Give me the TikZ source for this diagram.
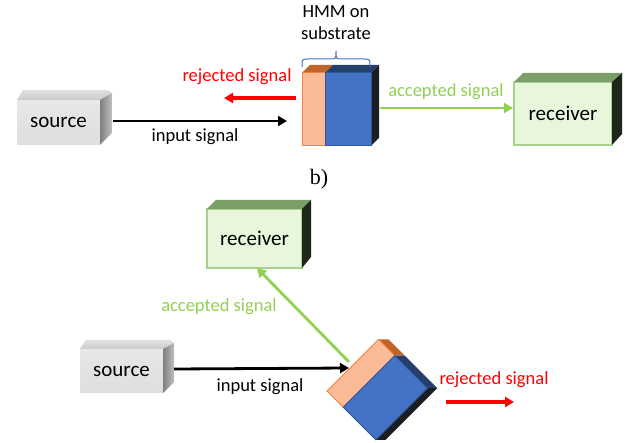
\documentclass[tikz,border=0pt]{standalone}
\usepackage{fontspec}
\setmainfont{Carlito}
\newfontfamily\serifb{Liberation Serif}
\usetikzlibrary{arrows.meta,calc}
\definecolor{orfront}{RGB}{252,187,152}
\definecolor{orline}{RGB}{240,128,60}
\definecolor{ortop}{RGB}{192,100,40}
\definecolor{blfront}{RGB}{68,114,196}
\definecolor{blline}{RGB}{47,85,151}
\definecolor{bltop}{RGB}{38,62,107}
\definecolor{blkside}{RGB}{26,30,34}
\definecolor{rcfront}{RGB}{232,246,220}
\definecolor{rcline}{RGB}{169,209,142}
\definecolor{rctop}{RGB}{124,158,104}
\definecolor{rcside}{RGB}{30,38,26}
\definecolor{sgreen}{RGB}{146,208,80}
\definecolor{sred}{RGB}{255,0,0}
\begin{document}
\begin{tikzpicture}[x=1pt,y=-1pt,
  boxlbl/.style={font=\fontsize{21}{25}\selectfont},
  sig/.style={font=\fontsize{18.5}{22}\selectfont, anchor=base, inner sep=0pt},
  srcfront/.style={boxlbl, inner sep=0pt, outer sep=0pt, shade, top color=black!9, bottom color=black!13},
  rcvfront/.style={boxlbl, inner sep=0pt, outer sep=0pt, fill=rcfront, draw=rcline, line width=1.3pt},
  arr/.style={-{Triangle[length=9pt,width=10pt]}},
  inarrow/.style={arr, line width=2.8pt, black},
  rejarrow/.style={arr, line width=3.2pt, sred},
  accarrow/.style={arr, line width=2.8pt, sgreen},
  ortopface/.style={fill=ortop},
  bltopface/.style={fill=bltop},
  sideface/.style={fill=blkside},
  orface/.style={fill=orfront, draw=orline, line width=1pt},
  blface/.style={fill=blfront, draw=blline, line width=1pt},
]
\useasboundingbox (0,0) rectangle (635,443);

% ---------- top: source ----------
\node[srcfront, minimum width=83pt, minimum height=45pt] (src1) at (58.5,122.5) {source};
\shade[top color=black!12, bottom color=black!20] (src1.north west) -- ++(6,-10) -- ($(src1.north east)+(6,-10)$) [rounded corners=4pt] -- ($(src1.north east)+(12,-9)$) [sharp corners] -- ++(0,2) -- (src1.north east) -- cycle;
\shade[left color=black!50, right color=black!25] (src1.north east) -- ($(src1.north east)+(12,-7)$) -- ($(src1.south east)+(12,-12)$) -- (src1.south east) -- cycle;

% ---------- top: HMM block ----------
\fill[ortopface] (302,73) -- (310,65) -- (333,65) -- (325,73) -- cycle;
\fill[bltopface] (325,73) -- (333,65) -- (379,65) -- (371,73) -- cycle;
\fill[sideface] (371,73) -- (379,65) -- (379,138) -- (371,146) -- cycle;
\node[orface, minimum width=23pt, minimum height=73pt, inner sep=0pt, outer sep=0pt] (hmm1o) at (313.5,109.5) {};
\node[blface, minimum width=46pt, minimum height=73pt, inner sep=0pt, outer sep=0pt] (hmm1b) at (348,109.5) {};
\draw[blfront, line width=1pt] (302,67) .. controls (302,59) .. (308,59) -- (331,59) .. controls (336,59) .. (336,51) .. controls (336,59) .. (341,59) -- (364,59) .. controls (370,59) .. (370,67);
\node[sig] (hmmlblA) at (336,18) {HMM on};
\node[sig] (hmmlblB) at (336,40) {substrate};

% ---------- top: receiver ----------
\node[rcvfront, minimum width=98pt, minimum height=63pt] (rcv1) at (563,113.5) {receiver};
\fill[rctop] (rcv1.north west) -- ++(9,-9) -- ($(rcv1.north east)+(10,-9)$) -- (rcv1.north east) -- cycle;
\fill[rcside] (rcv1.north east) -- ++(10,-9) -- ($(rcv1.south east)+(10,-11)$) -- (rcv1.south east) -- cycle;

% ---------- top: connectors ----------
\coordinate (in1s) at (113,121);
\coordinate (in1e) at (287,121);
\coordinate (rej1s) at (296,98);
\coordinate (rej1e) at (224,98);
\coordinate (acc1s) at (380,108);
\coordinate (acc1e) at (513,108);
\draw[inarrow] (in1s) -- (in1e);
\draw[rejarrow] (rej1s) -- (rej1e);
\draw[accarrow] (acc1s) -- (acc1e);
\node[sig] (inlbl1) at (195,142) {input signal};
\node[sig, text=sred] (rejlbl1) at (237,82) {rejected signal};
\node[sig, text=sgreen] (acclbl1) at (446,97) {accepted signal};

% ---------- b) ----------
\node[anchor=base, inner sep=0pt, font=\serifb\fontsize{22}{26}\selectfont] (blbl) at (319,184.5) {b)};

% ---------- bottom: receiver ----------
\node[rcvfront, minimum width=95pt, minimum height=59pt] (rcv2) at (254.5,238.5) {receiver};
\fill[rctop] (rcv2.north west) -- ++(9,-9) -- ($(rcv2.north east)+(9,-9)$) -- (rcv2.north east) -- cycle;
\fill[rcside] (rcv2.north east) -- ++(9,-9) -- ($(rcv2.south east)+(9,-11)$) -- (rcv2.south east) -- cycle;

% ---------- bottom: source ----------
\node[srcfront, minimum width=83pt, minimum height=44pt] (src2) at (121.5,371) {source};
\shade[top color=black!12, bottom color=black!20] (src2.north west) -- ++(6,-9) -- ($(src2.north east)+(6,-9)$) [rounded corners=4pt] -- ($(src2.north east)+(11,-8)$) [sharp corners] -- ++(0,2) -- (src2.north east) -- cycle;
\shade[left color=black!50, right color=black!25] (src2.north east) -- ($(src2.north east)+(11,-6)$) -- ($(src2.south east)+(11,-11)$) -- (src2.south east) -- cycle;

% ---------- bottom: rotated HMM block ----------
\begin{scope}[shift={(327,391)}, rotate=-45]
  \fill[ortopface] (0,-73) -- ++(7,-7) -- ++(23,0) -- (23,-73) -- cycle;
  \fill[bltopface] (23,-73) -- ++(7,-7) -- ++(46,0) -- (69,-73) -- cycle;
  \fill[sideface] (69,-73) -- ++(7,-7) -- ++(0,73) -- (69,0) -- cycle;
  \filldraw[orface] (0,0) rectangle (23,-73);
  \filldraw[blface] (23,0) rectangle (69,-73);
\end{scope}

% ---------- bottom: connectors ----------
\coordinate (in2s) at (174,369);
\coordinate (in2e) at (349,368);
\coordinate (acc2s) at (349,362);
\coordinate (acc2e) at (257,268);
\coordinate (rej2s) at (446,402);
\coordinate (rej2e) at (514,402);
\draw[inarrow] (in2s) -- (in2e);
\draw[accarrow] (acc2s) -- (acc2e);
\draw[rejarrow] (rej2s) -- (rej2e);
\node[sig, text=sgreen] (acclbl2) at (219,312) {accepted signal};
\node[sig] (inlbl2) at (260,392) {input signal};
\node[sig, text=sred] (rejlbl2) at (494,385) {rejected signal};
\end{tikzpicture}
\end{document}
